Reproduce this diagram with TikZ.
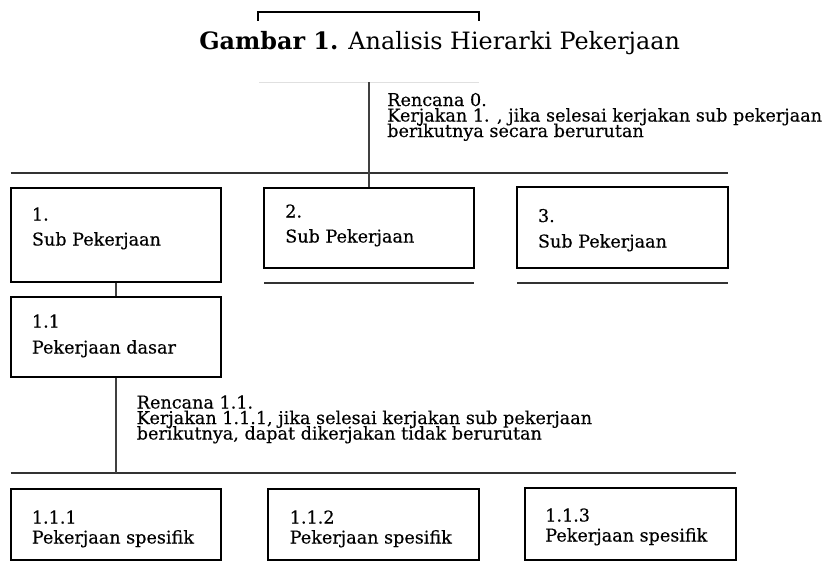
\documentclass[tikz,border=0pt]{standalone}
\usepackage{fontspec}
\setmainfont{DejaVu Serif}
\newfontfamily\bodyfont{DejaVu Serif}[FakeBold=0.35]
\usetikzlibrary{fit}
\begin{document}
\begin{tikzpicture}[x=0.75pt,y=-0.75pt,
  box/.style={draw=black, line width=1.5pt, inner sep=0pt},
  conn/.style={draw=black!75, line width=1.1pt},
  hrule/.style={draw=black!80, line width=1.1pt},
  lbl/.style={anchor=base west, inner sep=0pt, font=\bodyfont\fontsize{13.2}{15}\selectfont},
  ttl/.style={anchor=base west, inner sep=0pt, font=\fontsize{17.9}{20}\selectfont}]
\useasboundingbox (0,0) rectangle (823,567);

% title bracket and title
\draw[line width=1.2pt] (258,21) -- (258,12) -- (479,12) -- (479,21);
\node[ttl] (title) at (199,50) {\textbf{Gambar 1.} Analisis Hierarki Pekerjaan};
\draw[black!12, line width=0.6pt] (259,82) -- (479,82);

% boxes
\node[box, fit={(10.7,188) (221,282)}] (b1) {};
\node[box, fit={(264,188) (474,268)}] (b2) {};
\node[box, fit={(517,187) (727.5,268)}] (b3) {};
\node[box, fit={(10.7,297) (221,377)}] (b11) {};
\node[box, fit={(10.7,489) (221,560)}] (c1) {};
\node[box, fit={(268,489) (479,560)}] (c2) {};
\node[box, fit={(525,488) (736,560)}] (c3) {};

% rules
\coordinate (r0a) at (10.7,173); \coordinate (r0b) at (727.5,173);
\draw[hrule] (r0a) -- (r0b);
\coordinate (u2a) at (264,283); \coordinate (u2b) at (474,283);
\draw[hrule] (u2a) -- (u2b);
\coordinate (u3a) at (517,283); \coordinate (u3b) at (727.5,283);
\draw[hrule] (u3a) -- (u3b);
\coordinate (r1a) at (10.7,473); \coordinate (r1b) at (736,473);
\draw[hrule] (r1a) -- (r1b);

% connectors
\coordinate (p0) at (369,82);
\draw[conn] (p0) -- (b2.north);
\draw[conn] (b1.south) -- (b11.north);
\coordinate (p1) at (115.85,473);
\draw[conn] (b11.south) -- (p1);

% plan texts
\node[lbl] (pl0a) at (387,106) {Rencana 0.};
\node[lbl] (pl0b) at (387,121.5) {Kerjakan 1. , jika selesai kerjakan sub pekerjaan};
\node[lbl] (pl0c) at (387,137) {berikutnya secara berurutan};
\node[lbl] (pl1a) at (136.5,408.5) {Rencana 1.1.};
\node[lbl] (pl1b) at (136.5,424) {Kerjakan 1.1.1, jika selesai kerjakan sub pekerjaan};
\node[lbl] (pl1c) at (136.5,439.5) {berikutnya, dapat dikerjakan tidak berurutan};

% box texts
\node[lbl] (t1a) at (31.7,220.5) {1.};
\node[lbl] (t1b) at (31.7,245.5) {Sub Pekerjaan};
\node[lbl] (t2a) at (285,217.5) {2.};
\node[lbl] (t2b) at (285,242.5) {Sub Pekerjaan};
\node[lbl] (t3a) at (537.7,222) {3.};
\node[lbl] (t3b) at (537.7,247.5) {Sub Pekerjaan};
\node[lbl] (t11a) at (31.7,327.5) {1.1};
\node[lbl] (t11b) at (31.7,353.5) {Pekerjaan dasar};
\node[lbl] (s1a) at (31.6,523.5) {1.1.1};
\node[lbl] (s1b) at (31.6,543.5) {Pekerjaan spesifik};
\node[lbl] (s2a) at (289.5,523.5) {1.1.2};
\node[lbl] (s2b) at (289.5,543.5) {Pekerjaan spesifik};
\node[lbl] (s3a) at (545,521.5) {1.1.3};
\node[lbl] (s3b) at (545,541.5) {Pekerjaan spesifik};
\end{tikzpicture}
\end{document}
